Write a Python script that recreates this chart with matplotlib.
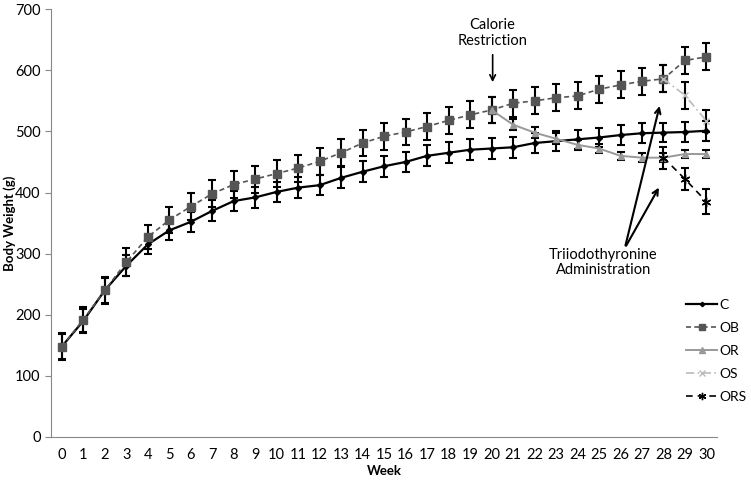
import matplotlib.pyplot as plt
from matplotlib.lines import Line2D

# week numbers
weeks = list(range(31))

# C (control)
c_mean = [148, 190, 240, 280, 315, 338, 352, 370, 386, 392, 401, 408, 412, 424, 434, 443,
          450, 460, 465, 470, 472, 474, 481, 484, 487, 490, 494, 497, 498, 499, 501]
c_err = [20, 20, 20, 17, 15, 15, 16, 17, 16, 17, 17, 17, 16, 17, 17, 17,
         17, 17, 17, 17, 17, 17, 17, 16, 16, 16, 16, 16, 16, 16, 16]

# OB
ob_mean = [148, 192, 240, 286, 327, 355, 377, 398, 413, 422, 431, 440, 451, 465, 481, 492,
           499, 508, 518, 527, 535, 546, 550, 555, 558, 569, 576, 582, 586, 616, 622]
ob_err = [22, 21, 22, 23, 20, 22, 22, 22, 22, 22, 22, 22, 22, 22, 22, 22,
          22, 22, 22, 22, 22, 22, 22, 22, 22, 22, 22, 22, 22, 22, 22]

# OR (from week 20)
or_weeks = list(range(20, 31))
or_mean = [535, 511, 498, 488, 478, 472, 460, 457, 457, 463, 463]
or_err = [22, 9, 9, 9, 8, 7, 7, 7, 7, 7, 7]

# OS (from week 28)
os_weeks = [28, 29, 30]
os_mean = [586, 559, 517]
os_err = [22, 22, 18]

# ORS (from week 28)
ors_weeks = [28, 29, 30]
ors_mean = [457, 422, 385]
ors_err = [18, 18, 20]

plt.rcParams['font.family'] = ['Lato', 'DejaVu Sans']

fig = plt.figure(figsize=(7.51, 4.82), dpi=100)
ax = fig.add_axes([0.068, 0.0934, 0.887, 0.8876])

ekw = dict(ecolor='black', elinewidth=1.5, capsize=3, capthick=1.5)

styles = {
    'C': dict(color='black', lw=1.6, ls='-', marker='D', ms=3),
    'OB': dict(color='#555555', lw=1.2, ls=(0, (3, 2)), marker='s', ms=6),
    'OR': dict(color='#999999', lw=1.4, ls='-', marker='^', ms=5),
    'OS': dict(color='#bbbbbb', lw=1.2, ls=(0, (5, 2, 1, 2)), marker='x', ms=5),
    'ORS': dict(color='black', lw=1.2, ls=(0, (4, 3)), marker=(6, 2, 0), ms=7),
}

ax.errorbar(weeks, c_mean, yerr=c_err, **styles['C'], **ekw)
ax.errorbar(weeks, ob_mean, yerr=ob_err, **styles['OB'], **ekw)
ax.errorbar(or_weeks, or_mean, yerr=or_err, **styles['OR'], **ekw)
ax.errorbar(os_weeks, os_mean, yerr=os_err, **styles['OS'], **ekw)
ax.errorbar(ors_weeks, ors_mean, yerr=ors_err, **styles['ORS'], **ekw)

ax.set_xlim(-0.5, 30.5)
ax.set_ylim(0, 700)
ax.set_xticks(weeks)
ax.set_yticks(range(0, 701, 100))
ax.tick_params(axis='x', length=0, labelsize=10.5, pad=8)
ax.tick_params(axis='y', length=4, color='#888888', labelsize=10.5)
for s in ['top', 'right']:
    ax.spines[s].set_visible(False)
for s in ['left', 'bottom']:
    ax.spines[s].set_color('#888888')

ax.set_xlabel('Week', fontweight='bold', fontsize=9.5, labelpad=2)
ax.set_ylabel('Body Weight (g)', fontweight='bold', fontsize=9.5)
ax.yaxis.set_label_coords(-0.053, 0.5)

ax.annotate('', xy=(20.05, 576), xytext=(20.05, 630),
            arrowprops=dict(arrowstyle='->', color='black', lw=1.2))
ax.text(20.05, 661, 'Calorie\nRestriction', ha='center', va='center', fontsize=10.5)

ax.annotate('', xy=(27.85, 546), xytext=(26.2, 309),
            arrowprops=dict(arrowstyle='->', color='black', lw=1.5))
ax.annotate('', xy=(27.85, 412), xytext=(26.2, 309),
            arrowprops=dict(arrowstyle='->', color='black', lw=1.5))
ax.text(25.2, 285, 'Triiodothyronine\nAdministration', ha='center', va='center',
        fontsize=10.5, linespacing=1.1)

# legend with smaller markers, no error bars
handles = []
for k in styles:
    st = dict(styles[k])
    st['ms'] = st['ms'] * 0.75
    handles.append(Line2D([], [], **st))
ax.legend(handles, list(styles), loc='upper left', bbox_to_anchor=(0.914, 0.38),
          bbox_transform=fig.transFigure, frameon=False, fontsize=10,
          handlelength=2.2, handletextpad=0.2, labelspacing=0.8, borderpad=0,
          borderaxespad=0)

fig.savefig('out.png', dpi=100)
